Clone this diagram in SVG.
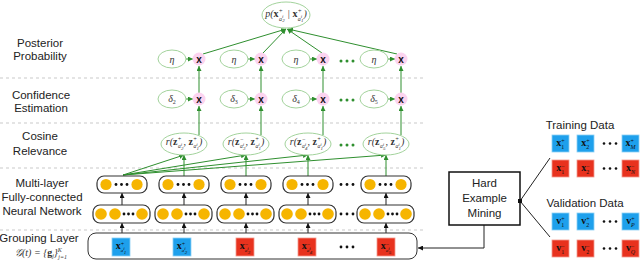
<svg xmlns="http://www.w3.org/2000/svg" width="640" height="262" viewBox="0 0 640 262">
<style>
.lbl{font-family:"Liberation Sans",Arial,sans-serif;font-size:11.5px;fill:#222;text-anchor:middle}
.m{font-family:"Liberation Serif","DejaVu Serif",serif;font-style:italic;font-size:10px;fill:#333;text-anchor:middle}
.b{font-weight:bold;font-style:normal}
.el{fill:#fff;stroke:#a3d39c;stroke-width:1}
.mul{fill:#fcd3f0}
.mx{font-family:"Liberation Sans",Arial,sans-serif;font-weight:bold;font-size:10px;fill:#111;text-anchor:middle}
.g{stroke:#2f8f2f;stroke-width:1;fill:none}
.k{stroke:#222;stroke-width:1;fill:none}
.dash{stroke:#c9c9c9;stroke-width:1;stroke-dasharray:3 3}
.nn{fill:#fff;stroke:#333;stroke-width:1.2}
.yc{fill:#f6b500}
.gd{fill:#2f8f2f}
.kd{fill:#111}
.blue{fill:#1ea0ec;stroke:#8cd0f5;stroke-width:0.8}
.red{fill:#e8321e;stroke:#f39a8e;stroke-width:0.8}
.sq{font-family:"Liberation Serif","DejaVu Serif",serif;font-size:10px;fill:#111;text-anchor:middle;font-weight:bold}
.s{font-size:6px;font-weight:normal}
.ss{font-size:5px;font-weight:normal;font-style:italic}
</style>
<defs>
<marker id="ga" viewBox="0 0 6 6" refX="6" refY="3" markerWidth="5" markerHeight="5" markerUnits="userSpaceOnUse" orient="auto"><path d="M0,0L6,3L0,6z" fill="#2f8f2f"/></marker>
<marker id="ka" viewBox="0 0 6 6" refX="6" refY="3" markerWidth="5" markerHeight="5" markerUnits="userSpaceOnUse" orient="auto"><path d="M0,0L6,3L0,6z" fill="#111"/></marker>
</defs>

<g id="guides">
<line class="dash" x1="0" y1="78" x2="425" y2="78"/>
<line class="dash" x1="0" y1="123" x2="425" y2="123"/>
<line class="dash" x1="0" y1="168" x2="425" y2="168"/>
<line class="dash" x1="0" y1="230" x2="425" y2="230"/>
</g>

<g id="labels">
<text class="lbl" x="40" y="47">Posterior</text>
<text class="lbl" x="40" y="60">Probability</text>
<text class="lbl" x="41" y="99">Confidence</text>
<text class="lbl" x="41" y="112">Estimation</text>
<text class="lbl" x="40" y="140">Cosine</text>
<text class="lbl" x="40" y="155">Relevance</text>
<text class="lbl" x="42" y="187">Multi-layer</text>
<text class="lbl" x="42" y="201">Fully-connected</text>
<text class="lbl" x="42" y="215">Neural Network</text>
<text class="lbl" x="39" y="242">Grouping Layer</text>
<text class="m" x="41" y="256" font-size="10">𝒢(t) = {<tspan class="b">g</tspan><tspan dy="2" font-size="6">j</tspan><tspan dy="-2">}</tspan><tspan dy="-4.5" font-size="6">K</tspan><tspan dx="-3.5" dy="7" font-size="6">j=1</tspan></text>
</g>

<g id="connectors">
<line class="g" x1="203" y1="54" x2="286" y2="29" marker-end="url(#ga)"/>
<line class="g" x1="263" y1="53" x2="286" y2="29" marker-end="url(#ga)"/>
<line class="g" x1="322" y1="53" x2="287" y2="29" marker-end="url(#ga)"/>
<line class="g" x1="397" y1="54" x2="288" y2="29" marker-end="url(#ga)"/>
<line class="g" x1="186" y1="59" x2="193" y2="59" marker-end="url(#ga)"/>
<line class="g" x1="248" y1="59" x2="255" y2="59" marker-end="url(#ga)"/>
<line class="g" x1="310" y1="59" x2="317" y2="59" marker-end="url(#ga)"/>
<line class="g" x1="388" y1="59" x2="395" y2="59" marker-end="url(#ga)"/>
<line class="g" x1="186" y1="99" x2="193" y2="99" marker-end="url(#ga)"/>
<line class="g" x1="248" y1="99" x2="255" y2="99" marker-end="url(#ga)"/>
<line class="g" x1="310" y1="99" x2="317" y2="99" marker-end="url(#ga)"/>
<line class="g" x1="388" y1="99" x2="395" y2="99" marker-end="url(#ga)"/>
<line class="g" x1="199" y1="93" x2="199" y2="66" marker-end="url(#ga)"/>
<line class="g" x1="261" y1="93" x2="261" y2="66" marker-end="url(#ga)"/>
<line class="g" x1="323" y1="93" x2="323" y2="66" marker-end="url(#ga)"/>
<line class="g" x1="401" y1="93" x2="401" y2="66" marker-end="url(#ga)"/>
<line class="g" x1="199" y1="135" x2="199" y2="106" marker-end="url(#ga)"/>
<line class="g" x1="261" y1="135" x2="261" y2="106" marker-end="url(#ga)"/>
<line class="g" x1="323" y1="135" x2="323" y2="106" marker-end="url(#ga)"/>
<line class="g" x1="401" y1="135" x2="401" y2="106" marker-end="url(#ga)"/>
<line class="g" x1="123" y1="175" x2="184" y2="155" marker-end="url(#ga)"/>
<line class="g" x1="123" y1="175" x2="246" y2="155" marker-end="url(#ga)"/>
<line class="g" x1="123" y1="175" x2="308" y2="155" marker-end="url(#ga)"/>
<line class="g" x1="123" y1="175" x2="386" y2="155" marker-end="url(#ga)"/>
<line class="g" x1="184" y1="176" x2="184" y2="155" marker-end="url(#ga)"/>
<line class="g" x1="246" y1="176" x2="246" y2="155" marker-end="url(#ga)"/>
<line class="g" x1="308" y1="176" x2="308" y2="155" marker-end="url(#ga)"/>
<line class="g" x1="386" y1="176" x2="386" y2="155" marker-end="url(#ga)"/>
<line class="k" x1="122" y1="205" x2="122" y2="193" marker-end="url(#ka)"/>
<line class="k" x1="184" y1="205" x2="184" y2="193" marker-end="url(#ka)"/>
<line class="k" x1="246" y1="205" x2="246" y2="193" marker-end="url(#ka)"/>
<line class="k" x1="308" y1="205" x2="308" y2="193" marker-end="url(#ka)"/>
<line class="k" x1="386" y1="205" x2="386" y2="193" marker-end="url(#ka)"/>
<line class="k" x1="122" y1="233" x2="122" y2="223" marker-end="url(#ka)"/>
<line class="k" x1="184" y1="233" x2="184" y2="223" marker-end="url(#ka)"/>
<line class="k" x1="246" y1="233" x2="246" y2="223" marker-end="url(#ka)"/>
<line class="k" x1="308" y1="233" x2="308" y2="223" marker-end="url(#ka)"/>
<line class="k" x1="386" y1="233" x2="386" y2="223" marker-end="url(#ka)"/>
<polyline class="k" points="484,225 484,248 418,248" marker-end="url(#ka)"/>
<line class="k" x1="520" y1="201" x2="550" y2="158"/>
<line class="k" x1="520" y1="201" x2="550" y2="237"/>
</g>

<g id="posterior">
<ellipse class="el" cx="286" cy="15" rx="24" ry="13"/>
<text class="m" x="286" y="17" font-size="10.5">p(<tspan class="b">x</tspan><tspan dy="-4" font-size="6.5">+</tspan><tspan dx="-4" dy="7.5" font-size="6">a</tspan><tspan dy="-2.5" class="ss">i</tspan><tspan dx="-1.2" dy="4" class="ss">2</tspan><tspan dy="-5"> | </tspan><tspan class="b">x</tspan><tspan dy="-4" font-size="6.5">+</tspan><tspan dx="-4" dy="7.5" font-size="6">a</tspan><tspan dy="-2.5" class="ss">i</tspan><tspan dx="-1.2" dy="4" class="ss">1</tspan><tspan dy="-5">)</tspan></text>
</g>

<g id="eta">
<ellipse class="el" cx="172" cy="59" rx="14" ry="9"/><text class="m" x="172" y="62.5">η</text>
<ellipse class="el" cx="234" cy="59" rx="14" ry="9"/><text class="m" x="234" y="62.5">η</text>
<ellipse class="el" cx="296" cy="59" rx="14" ry="9"/><text class="m" x="296" y="62.5">η</text>
<ellipse class="el" cx="374" cy="59" rx="14" ry="9"/><text class="m" x="374" y="62.5">η</text>
</g>

<g id="post-mult">
<circle class="mul" cx="199" cy="59" r="6.5"/><text class="mx" x="199" y="62.5">x</text>
<circle class="mul" cx="261" cy="59" r="6.5"/><text class="mx" x="261" y="62.5">x</text>
<circle class="mul" cx="323" cy="59" r="6.5"/><text class="mx" x="323" y="62.5">x</text>
<circle class="mul" cx="401" cy="59" r="6.5"/><text class="mx" x="401" y="62.5">x</text>
<circle class="gd" cx="341" cy="61" r="1.5"/><circle class="gd" cx="347" cy="61" r="1.5"/><circle class="gd" cx="353" cy="61" r="1.5"/>
</g>

<g id="delta">
<ellipse class="el" cx="172" cy="99" rx="14" ry="9"/><text class="m" x="172" y="102">δ<tspan dy="2" font-size="6" font-style="normal">2</tspan></text>
<ellipse class="el" cx="234" cy="99" rx="14" ry="9"/><text class="m" x="234" y="102">δ<tspan dy="2" font-size="6" font-style="normal">3</tspan></text>
<ellipse class="el" cx="296" cy="99" rx="14" ry="9"/><text class="m" x="296" y="102">δ<tspan dy="2" font-size="6" font-style="normal">4</tspan></text>
<ellipse class="el" cx="374" cy="99" rx="14" ry="9"/><text class="m" x="374" y="102">δ<tspan dy="2" font-size="6" font-style="normal">5</tspan></text>
</g>

<g id="conf-mult">
<circle class="mul" cx="199" cy="99" r="6.5"/><text class="mx" x="199" y="102.5">x</text>
<circle class="mul" cx="261" cy="99" r="6.5"/><text class="mx" x="261" y="102.5">x</text>
<circle class="mul" cx="323" cy="99" r="6.5"/><text class="mx" x="323" y="102.5">x</text>
<circle class="mul" cx="401" cy="99" r="6.5"/><text class="mx" x="401" y="102.5">x</text>
<circle class="gd" cx="341" cy="100" r="1.5"/><circle class="gd" cx="347" cy="100" r="1.5"/><circle class="gd" cx="353" cy="100" r="1.5"/>
</g>

<g id="cosine">
<ellipse class="el" cx="184" cy="144" rx="23" ry="11"/>
<text class="m" x="184" y="145" font-size="9.5">r(<tspan class="b">z</tspan><tspan dy="-4" font-size="6">+</tspan><tspan dx="-3.5" dy="7" font-size="5.5">a</tspan><tspan dy="-2.5" class="ss">i</tspan><tspan dx="-1.2" dy="4" class="ss">2</tspan><tspan dy="-4.5">, </tspan><tspan class="b">z</tspan><tspan dy="-4" font-size="6">+</tspan><tspan dx="-3.5" dy="7" font-size="5.5">a</tspan><tspan dy="-2.5" class="ss">i</tspan><tspan dx="-1.2" dy="4" class="ss">1</tspan><tspan dy="-4.5">)</tspan></text>
<ellipse class="el" cx="246" cy="144" rx="23" ry="11"/>
<text class="m" x="246" y="145" font-size="9.5">r(<tspan class="b">z</tspan><tspan dy="-4" font-size="6">−</tspan><tspan dx="-3.5" dy="7" font-size="5.5">a</tspan><tspan dy="-2.5" class="ss">i</tspan><tspan dx="-1.2" dy="4" class="ss">3</tspan><tspan dy="-4.5">, </tspan><tspan class="b">z</tspan><tspan dy="-4" font-size="6">+</tspan><tspan dx="-3.5" dy="7" font-size="5.5">a</tspan><tspan dy="-2.5" class="ss">i</tspan><tspan dx="-1.2" dy="4" class="ss">1</tspan><tspan dy="-4.5">)</tspan></text>
<ellipse class="el" cx="308" cy="144" rx="23" ry="11"/>
<text class="m" x="308" y="145" font-size="9.5">r(<tspan class="b">z</tspan><tspan dy="-4" font-size="6">−</tspan><tspan dx="-3.5" dy="7" font-size="5.5">a</tspan><tspan dy="-2.5" class="ss">i</tspan><tspan dx="-1.2" dy="4" class="ss">4</tspan><tspan dy="-4.5">, </tspan><tspan class="b">z</tspan><tspan dy="-4" font-size="6">+</tspan><tspan dx="-3.5" dy="7" font-size="5.5">a</tspan><tspan dy="-2.5" class="ss">i</tspan><tspan dx="-1.2" dy="4" class="ss">1</tspan><tspan dy="-4.5">)</tspan></text>
<ellipse class="el" cx="386" cy="144" rx="23" ry="11"/>
<text class="m" x="386" y="145" font-size="9.5">r(<tspan class="b">z</tspan><tspan dy="-4" font-size="6">−</tspan><tspan dx="-3.5" dy="7" font-size="5.5">a</tspan><tspan dy="-2.5" class="ss">i</tspan><tspan dx="-1.2" dy="4" class="ss">5</tspan><tspan dy="-4.5">, </tspan><tspan class="b">z</tspan><tspan dy="-4" font-size="6">+</tspan><tspan dx="-3.5" dy="7" font-size="5.5">a</tspan><tspan dy="-2.5" class="ss">i</tspan><tspan dx="-1.2" dy="4" class="ss">1</tspan><tspan dy="-4.5">)</tspan></text>
<circle class="gd" cx="341" cy="145" r="1.5"/><circle class="gd" cx="347" cy="145" r="1.5"/><circle class="gd" cx="353" cy="145" r="1.5"/>
</g>

<g id="nn-top">
<rect class="nn" x="97" y="176" width="50" height="17" rx="7"/>
<circle class="yc" cx="106" cy="184.5" r="5.6"/><circle class="yc" cx="137" cy="184.5" r="5.6"/>
<circle class="kd" cx="116" cy="184.5" r="1.4"/><circle class="kd" cx="121.5" cy="184.5" r="1.4"/><circle class="kd" cx="127" cy="184.5" r="1.4"/>
<rect class="nn" x="159" y="176" width="50" height="17" rx="7"/>
<circle class="yc" cx="168" cy="184.5" r="5.6"/><circle class="yc" cx="199" cy="184.5" r="5.6"/>
<circle class="kd" cx="178" cy="184.5" r="1.4"/><circle class="kd" cx="183.5" cy="184.5" r="1.4"/><circle class="kd" cx="189" cy="184.5" r="1.4"/>
<rect class="nn" x="221" y="176" width="50" height="17" rx="7"/>
<circle class="yc" cx="230" cy="184.5" r="5.6"/><circle class="yc" cx="261" cy="184.5" r="5.6"/>
<circle class="kd" cx="240" cy="184.5" r="1.4"/><circle class="kd" cx="245.5" cy="184.5" r="1.4"/><circle class="kd" cx="251" cy="184.5" r="1.4"/>
<rect class="nn" x="283" y="176" width="50" height="17" rx="7"/>
<circle class="yc" cx="292" cy="184.5" r="5.6"/><circle class="yc" cx="323" cy="184.5" r="5.6"/>
<circle class="kd" cx="302" cy="184.5" r="1.4"/><circle class="kd" cx="307.5" cy="184.5" r="1.4"/><circle class="kd" cx="313" cy="184.5" r="1.4"/>
<rect class="nn" x="361" y="176" width="50" height="17" rx="7"/>
<circle class="yc" cx="370" cy="184.5" r="5.6"/><circle class="yc" cx="401" cy="184.5" r="5.6"/>
<circle class="kd" cx="380" cy="184.5" r="1.4"/><circle class="kd" cx="385.5" cy="184.5" r="1.4"/><circle class="kd" cx="391" cy="184.5" r="1.4"/>
<circle class="kd" cx="341" cy="184.5" r="1.4"/><circle class="kd" cx="347" cy="184.5" r="1.4"/><circle class="kd" cx="353" cy="184.5" r="1.4"/>
</g>

<g id="nn-bottom">
<rect class="nn" x="93" y="205" width="57" height="18" rx="7"/>
<circle class="yc" cx="101" cy="214" r="5.8"/><circle class="yc" cx="115" cy="214" r="5.8"/><circle class="yc" cx="142" cy="214" r="5.8"/>
<circle class="kd" cx="124" cy="214" r="1.4"/><circle class="kd" cx="128.5" cy="214" r="1.4"/><circle class="kd" cx="133" cy="214" r="1.4"/>
<rect class="nn" x="155" y="205" width="57" height="18" rx="7"/>
<circle class="yc" cx="163" cy="214" r="5.8"/><circle class="yc" cx="177" cy="214" r="5.8"/><circle class="yc" cx="204" cy="214" r="5.8"/>
<circle class="kd" cx="186" cy="214" r="1.4"/><circle class="kd" cx="190.5" cy="214" r="1.4"/><circle class="kd" cx="195" cy="214" r="1.4"/>
<rect class="nn" x="217" y="205" width="57" height="18" rx="7"/>
<circle class="yc" cx="225" cy="214" r="5.8"/><circle class="yc" cx="239" cy="214" r="5.8"/><circle class="yc" cx="266" cy="214" r="5.8"/>
<circle class="kd" cx="248" cy="214" r="1.4"/><circle class="kd" cx="252.5" cy="214" r="1.4"/><circle class="kd" cx="257" cy="214" r="1.4"/>
<rect class="nn" x="279" y="205" width="57" height="18" rx="7"/>
<circle class="yc" cx="287" cy="214" r="5.8"/><circle class="yc" cx="301" cy="214" r="5.8"/><circle class="yc" cx="328" cy="214" r="5.8"/>
<circle class="kd" cx="310" cy="214" r="1.4"/><circle class="kd" cx="314.5" cy="214" r="1.4"/><circle class="kd" cx="319" cy="214" r="1.4"/>
<rect class="nn" x="357" y="205" width="57" height="18" rx="7"/>
<circle class="yc" cx="365" cy="214" r="5.8"/><circle class="yc" cx="379" cy="214" r="5.8"/><circle class="yc" cx="406" cy="214" r="5.8"/>
<circle class="kd" cx="388" cy="214" r="1.4"/><circle class="kd" cx="392.5" cy="214" r="1.4"/><circle class="kd" cx="397" cy="214" r="1.4"/>
<circle class="kd" cx="341" cy="214" r="1.4"/><circle class="kd" cx="347" cy="214" r="1.4"/><circle class="kd" cx="353" cy="214" r="1.4"/>
</g>

<g id="grouping">
<rect x="88" y="233" width="329" height="26" rx="8" fill="#fff" stroke="#333" stroke-width="1"/>
<rect class="blue" x="112" y="238" width="18" height="18"/>
<text class="sq" x="121" y="249">x<tspan dy="-3.5" class="s">+</tspan><tspan dx="-3.5" dy="6.5" class="ss">a</tspan><tspan dy="-2" class="ss">i</tspan><tspan dx="-1" dy="3.5" class="ss">1</tspan></text>
<rect class="blue" x="173" y="238" width="18" height="18"/>
<text class="sq" x="182" y="249">x<tspan dy="-3.5" class="s">+</tspan><tspan dx="-3.5" dy="6.5" class="ss">a</tspan><tspan dy="-2" class="ss">i</tspan><tspan dx="-1" dy="3.5" class="ss">2</tspan></text>
<rect class="red" x="236" y="238" width="18" height="18"/>
<text class="sq" x="245" y="249">x<tspan dy="-3.5" class="s">−</tspan><tspan dx="-3.5" dy="6.5" class="ss">a</tspan><tspan dy="-2" class="ss">i</tspan><tspan dx="-1" dy="3.5" class="ss">3</tspan></text>
<rect class="red" x="298" y="238" width="18" height="18"/>
<text class="sq" x="307" y="249">x<tspan dy="-3.5" class="s">−</tspan><tspan dx="-3.5" dy="6.5" class="ss">a</tspan><tspan dy="-2" class="ss">i</tspan><tspan dx="-1" dy="3.5" class="ss">4</tspan></text>
<rect class="red" x="377" y="238" width="18" height="18"/>
<text class="sq" x="386" y="249">x<tspan dy="-3.5" class="s">−</tspan><tspan dx="-3.5" dy="6.5" class="ss">a</tspan><tspan dy="-2" class="ss">i</tspan><tspan dx="-1" dy="3.5" class="ss">5</tspan></text>
<circle class="kd" cx="341" cy="247" r="1.4"/><circle class="kd" cx="347" cy="247" r="1.4"/><circle class="kd" cx="353" cy="247" r="1.4"/>
</g>

<g id="mining">
<rect x="449" y="172" width="71" height="53" fill="#fff" stroke="#111" stroke-width="1.5"/>
<text class="lbl" x="484.5" y="187" font-size="13">Hard</text>
<text class="lbl" x="484.5" y="202" font-size="13">Example</text>
<text class="lbl" x="484.5" y="217" font-size="13">Mining</text>
<rect x="518" y="199" width="4" height="4" fill="#111"/>
</g>

<g id="training">
<text class="lbl" x="580" y="129" font-size="11">Training Data</text>
<rect class="blue" x="552" y="135" width="17" height="17"/>
<text class="sq" x="560.5" y="146">x<tspan dy="-3.5" class="s">+</tspan><tspan dx="-3.5" dy="6" class="s">1</tspan></text>
<rect class="blue" x="577" y="135" width="17" height="17"/>
<text class="sq" x="585.5" y="146">x<tspan dy="-3.5" class="s">+</tspan><tspan dx="-3.5" dy="6" class="s">2</tspan></text>
<rect class="blue" x="622" y="135" width="17" height="17"/>
<text class="sq" x="630.5" y="146">x<tspan dy="-3.5" class="s">+</tspan><tspan dx="-3.5" dy="6" class="s" font-style="italic">M</tspan></text>
<circle class="kd" cx="604" cy="143.5" r="1.3"/><circle class="kd" cx="610" cy="143.5" r="1.3"/><circle class="kd" cx="616" cy="143.5" r="1.3"/>
<rect class="red" x="552" y="160" width="17" height="17"/>
<text class="sq" x="560.5" y="171">x<tspan dy="-3.5" class="s">−</tspan><tspan dx="-3.5" dy="6" class="s">1</tspan></text>
<rect class="red" x="577" y="160" width="17" height="17"/>
<text class="sq" x="585.5" y="171">x<tspan dy="-3.5" class="s">−</tspan><tspan dx="-3.5" dy="6" class="s">2</tspan></text>
<rect class="red" x="622" y="160" width="17" height="17"/>
<text class="sq" x="630.5" y="171">x<tspan dy="-3.5" class="s">−</tspan><tspan dx="-3.5" dy="6" class="s" font-style="italic">N</tspan></text>
<circle class="kd" cx="604" cy="168.5" r="1.3"/><circle class="kd" cx="610" cy="168.5" r="1.3"/><circle class="kd" cx="616" cy="168.5" r="1.3"/>
</g>

<g id="validation">
<text class="lbl" x="585" y="207" font-size="11">Validation Data</text>
<rect class="blue" x="552" y="213" width="17" height="17"/>
<text class="sq" x="560.5" y="224">v<tspan dy="-3.5" class="s">+</tspan><tspan dx="-3.5" dy="6" class="s">1</tspan></text>
<rect class="blue" x="577" y="213" width="17" height="17"/>
<text class="sq" x="585.5" y="224">v<tspan dy="-3.5" class="s">+</tspan><tspan dx="-3.5" dy="6" class="s">2</tspan></text>
<rect class="blue" x="622" y="213" width="17" height="17"/>
<text class="sq" x="630.5" y="224">v<tspan dy="-3.5" class="s">+</tspan><tspan dx="-3.5" dy="6" class="s" font-style="italic">P</tspan></text>
<circle class="kd" cx="604" cy="221.5" r="1.3"/><circle class="kd" cx="610" cy="221.5" r="1.3"/><circle class="kd" cx="616" cy="221.5" r="1.3"/>
<rect class="red" x="552" y="240" width="17" height="17"/>
<text class="sq" x="560.5" y="251">v<tspan dy="-3.5" class="s">−</tspan><tspan dx="-3.5" dy="6" class="s">1</tspan></text>
<rect class="red" x="577" y="240" width="17" height="17"/>
<text class="sq" x="585.5" y="251">v<tspan dy="-3.5" class="s">−</tspan><tspan dx="-3.5" dy="6" class="s">2</tspan></text>
<rect class="red" x="622" y="240" width="17" height="17"/>
<text class="sq" x="630.5" y="251">v<tspan dy="-3.5" class="s">−</tspan><tspan dx="-3.5" dy="6" class="s" font-style="italic">Q</tspan></text>
<circle class="kd" cx="604" cy="248.5" r="1.3"/><circle class="kd" cx="610" cy="248.5" r="1.3"/><circle class="kd" cx="616" cy="248.5" r="1.3"/>
</g>
</svg>
